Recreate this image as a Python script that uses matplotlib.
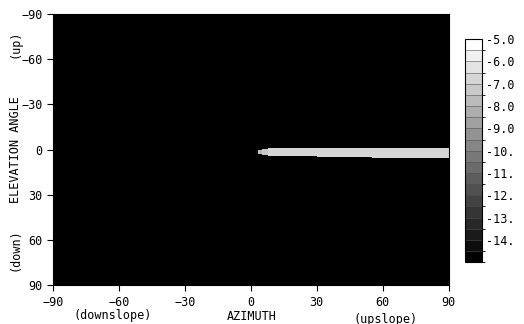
import numpy as np
import matplotlib
matplotlib.use('Agg')
import matplotlib.pyplot as plt
from matplotlib.colors import BoundaryNorm

# Grade angular (graus)
azimute_bordas = np.arange(-90, 90.01, 0.5)
elevacao_bordas = np.arange(-90, 90.01, 0.5)

# Nivel de fundo (dB)
nivel_fundo = -14.9

# Faixa brilhante perto da elevacao 0 (segmentos em azimute)
faixa_az_ini = [3.5, 5, 8, 14, 30, 55]
faixa_az_fim = [5, 8, 14, 30, 55, 90]
faixa_topo = [0, -0.5, -1, -1, -1, -1]
faixa_base = [3, 3.5, 4, 4.5, 5, 5.5]
faixa_nivel = [-8.0, -7.5, -7.0, -7.0, -7.0, -7.0]

# Escala de cores
niveis = np.arange(-15.0, -4.99, 0.5)
ticks_cbar = [-5, -6, -7, -8, -9, -10, -11, -12, -13, -14]
rotulos_cbar = ['-5.0', '-6.0', '-7.0', '-8.0', '-9.0', '-10.', '-11.', '-12.', '-13.', '-14.']

ticks_eixo = [-90, -60, -30, 0, 30, 60, 90]

# Monta o campo
campo = np.full((len(elevacao_bordas) - 1, len(azimute_bordas) - 1), nivel_fundo)
az_centros = 0.5 * (azimute_bordas[:-1] + azimute_bordas[1:])
el_centros = 0.5 * (elevacao_bordas[:-1] + elevacao_bordas[1:])
for a0, a1, t, b, v in zip(faixa_az_ini, faixa_az_fim, faixa_topo, faixa_base, faixa_nivel):
    msk_az = (az_centros >= a0) & (az_centros < a1)
    msk_el = (el_centros >= t) & (el_centros < b)
    campo[np.ix_(msk_el, msk_az)] = v

plt.rcParams['font.family'] = 'DejaVu Sans Mono'
plt.rcParams['font.size'] = 8.5

fig = plt.figure(figsize=(5.24, 3.24), dpi=100)
ax = fig.add_axes([0.101, 0.120, 0.755, 0.837])
norm = BoundaryNorm(niveis, 256)
pm = ax.pcolormesh(azimute_bordas, elevacao_bordas, campo, cmap='gray', norm=norm)
ax.set_xlim(-90, 90)
ax.set_ylim(90, -90)
ax.set_xticks(ticks_eixo)
ax.set_yticks(ticks_eixo)
ax.tick_params(direction='out', length=4, width=0.8)
for s in ax.spines.values():
    s.set_linewidth(0.8)

# Rotulos dos eixos
fig.text(0.029, 1 - 150 / 324, 'ELEVATION ANGLE', rotation=90, ha='center', va='center')
fig.text(0.029, 1 - 44 / 324, '(up)', rotation=90, ha='center', va='center')
fig.text(0.029, 1 - 250 / 324, '(down)', rotation=90, ha='center', va='center')
fig.text(252 / 524, 1 - 316 / 324, 'AZIMUTH', ha='center', va='center')
fig.text(113 / 524, 1 - 316 / 324, '(downslope)', ha='center', va='center')
fig.text(386 / 524, 1 - 319 / 324, '(upslope)', ha='center', va='center')

# Barra de cores
cax = fig.add_axes([0.887, 0.191, 0.032, 0.688])
cb = fig.colorbar(pm, cax=cax, ticks=ticks_cbar, drawedges=True)
cb.dividers.set_color('#555555')
cb.dividers.set_linewidth(0.4)
cb.outline.set_linewidth(0.8)
cb.ax.set_yticklabels(rotulos_cbar)
cb.ax.tick_params(length=0, pad=3)

fig.savefig('out.png', dpi=100)
